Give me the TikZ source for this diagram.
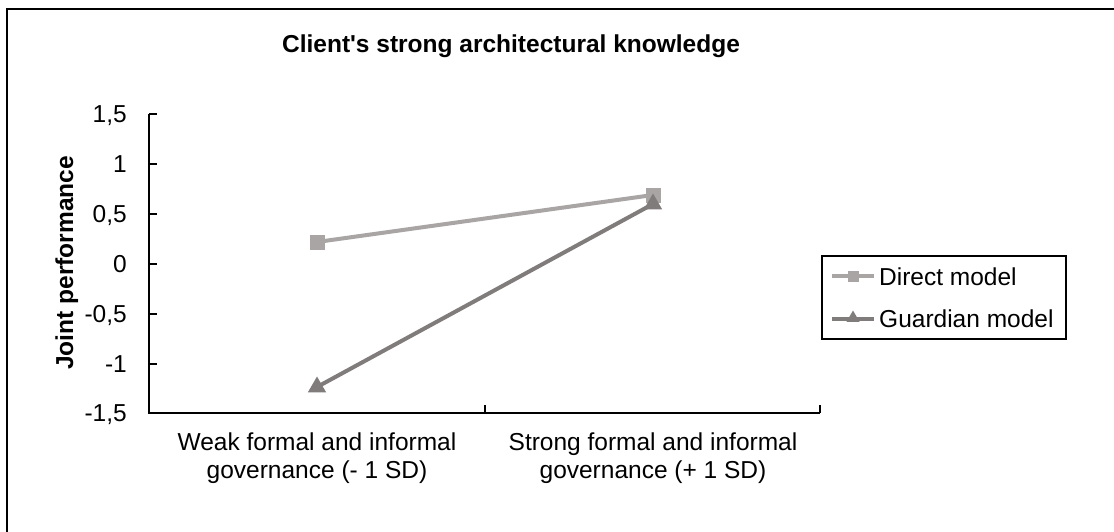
\documentclass[tikz,border=0pt]{standalone}
\usepackage{fontspec}
\setmainfont{Liberation Sans}
\usepackage{tikz}
\definecolor{cd}{RGB}{168, 165, 164}
\definecolor{cg}{RGB}{128, 124, 123}
\usetikzlibrary{positioning}
\usetikzlibrary{shapes.geometric}

\begin{document}
\begin{tikzpicture}[every node/.style={inner sep=0pt, font=\fontsize{24.5pt}{28pt}\selectfont},
 sq/.style={rectangle, minimum size=15pt, fill=cd},
 tri/.style={regular polygon, regular polygon sides=3, minimum size=21pt, fill=cg},
 sqs/.style={rectangle, minimum size=11pt, fill=cd},
 tris/.style={regular polygon, regular polygon sides=3, minimum size=15pt, fill=cg},
 axis/.style={line width=1.5pt, color=black},
 directline/.style={line width=4pt, color=cd},
 guardline/.style={line width=4pt, color=cg}]
\useasboundingbox (0pt, 0pt) rectangle (1114pt, -532pt);
% chart area frame (cut off at right and bottom)
\draw [line width=2.2pt, color=black] (1114pt, -9pt) -- (7pt, -9pt) -- (7pt, -532pt);
\node (title) [anchor=base, font=\fontsize{24.5pt}{28pt}\selectfont\bfseries] at (511pt, -53pt) {Client\textquotesingle s strong architectural knowledge};
\node (ylab) [anchor=base, rotate=90, font=\fontsize{24.5pt}{28pt}\selectfont\bfseries] at (73pt, -263pt) {Joint performance};
% axes
\coordinate (o) at (149pt, -413pt);
\coordinate (ytop) at (149pt, -114pt);
\coordinate (xend) at (820pt, -413pt);
\draw [axis] (ytop) -- (o) -- (xend);
\foreach \y/\lab [count=\i] in {114pt/{1,5}, 164pt/1, 214pt/{0,5}, 264pt/0, 314pt/{-0,5}, 364pt/-1, 413pt/{-1,5}} {
  \node (t\i) [anchor=base east] at (127pt, -\y-8.8pt) {\lab};
  \draw [axis] (149pt, -\y) -- (157pt, -\y);
}
\foreach \x in {485pt, 820pt} {
  \draw [axis] (\x, -413pt) -- (\x, -405pt);
}
\node (c1) [anchor=north, align=center] at (317pt, -433pt) {Weak formal and informal\\governance (- 1 SD)};
\node (c2) [anchor=north, align=center] at (653pt, -433pt) {Strong formal and informal\\governance (+ 1 SD)};
% data
\node (d1) [sq] at (317pt, -242pt) {};
\node (d2) [sq] at (653pt, -195pt) {};
\draw [directline] (d1.center) -- (d2.center);
\node (d1) [sq] at (317pt, -242pt) {};
\node (d2) [sq] at (653pt, -195pt) {};
\node (g1) [tri] at (317pt, -387pt) {};
\node (g2) [tri] at (653pt, -204pt) {};
\draw [guardline] (g1.center) -- (g2.center);
% legend
\node (leg) [draw, line width=1.5pt, minimum width=244pt, minimum height=83pt] at (944pt, -297.5pt) {};
\coordinate (l1a) at (832pt, -276pt);
\coordinate (l1b) at (874pt, -276pt);
\coordinate (l2a) at (832pt, -319pt);
\coordinate (l2b) at (874pt, -319pt);
\draw [directline] (l1a) -- (l1b);
\node (ld) [sqs] at (853pt, -276pt) {};
\draw [guardline] (l2a) -- (l2b);
\node (lg) [tris] at (853pt, -318pt) {};
\node (ldt) [anchor=base west] at (879pt, -285pt) {Direct model};
\node (lgt) [anchor=base west] at (879pt, -327pt) {Guardian model};
\end{tikzpicture}
\end{document}
